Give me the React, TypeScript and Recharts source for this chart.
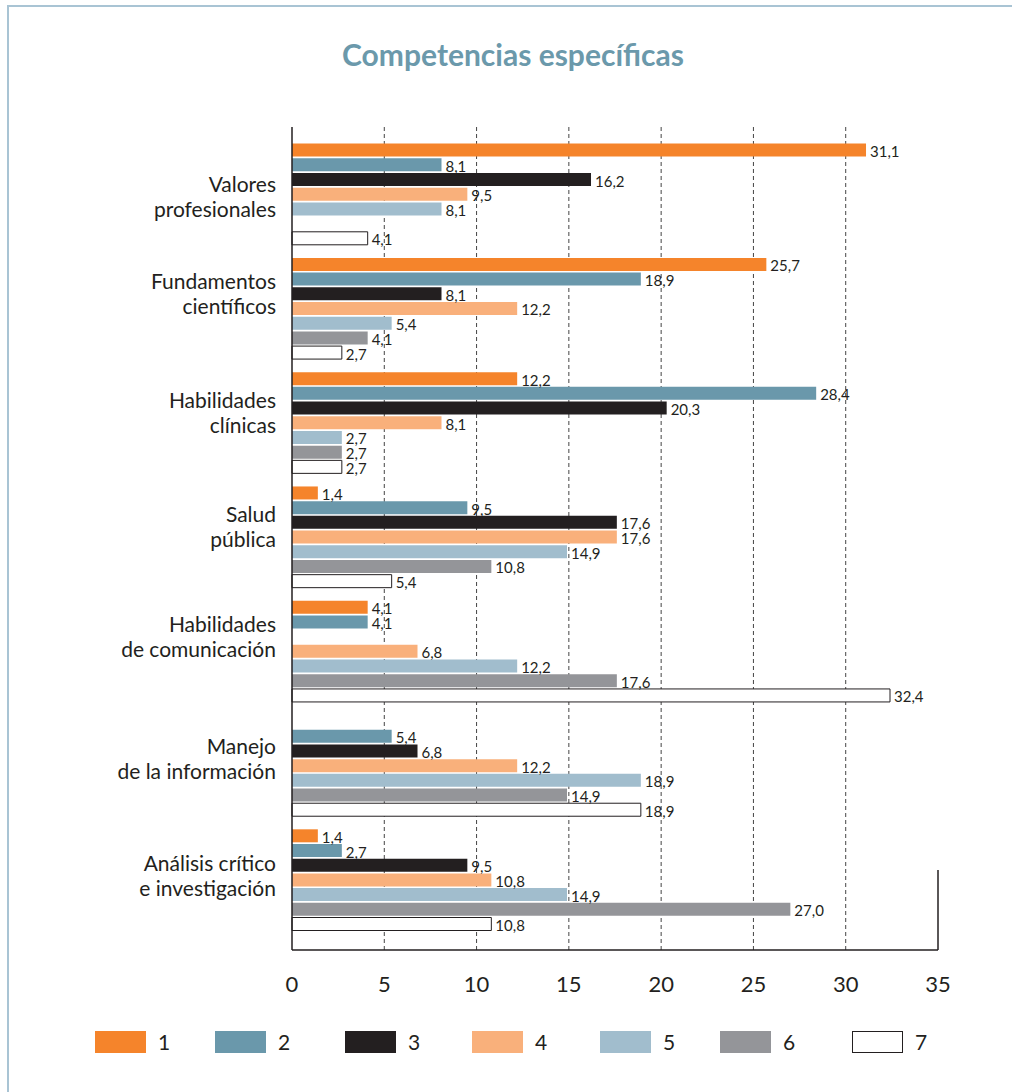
import React from "react";
import {
  BarChart,
  Bar,
  XAxis,
  YAxis,
  CartesianGrid,
  LabelList,
  ReferenceLine,
} from "recharts";

const FONT = "Lato, 'Open Sans', sans-serif";
const TEXT = "#231f20";

const categories = [
  "Valores\nprofesionales",
  "Fundamentos\ncientíficos",
  "Habilidades\nclínicas",
  "Salud\npública",
  "Habilidades\nde comunicación",
  "Manejo\nde la información",
  "Análisis crítico\ne investigación",
];
const serie1 = [31.1, 25.7, 12.2, 1.4, 4.1, null, 1.4];
const serie2 = [8.1, 18.9, 28.4, 9.5, 4.1, 5.4, 2.7];
const serie3 = [16.2, 8.1, 20.3, 17.6, null, 6.8, 9.5];
const serie4 = [9.5, 12.2, 8.1, 17.6, 6.8, 12.2, 10.8];
const serie5 = [8.1, 5.4, 2.7, 14.9, 12.2, 18.9, 14.9];
const serie6 = [null, 4.1, 2.7, 10.8, 17.6, 14.9, 27.0];
const serie7 = [4.1, 2.7, 2.7, 5.4, 32.4, 18.9, 10.8];
const seriesNames = ["1", "2", "3", "4", "5", "6", "7"];
const seriesColors = ["#f5842b", "#6a98ab", "#231f20", "#f9b07b", "#a1bdcd", "#949599", "#ffffff"];
const xTicks = [0, 5, 10, 15, 20, 25, 30, 35];
const gridValues = [5, 10, 15, 20, 25, 30];

const allSeries = [serie1, serie2, serie3, serie4, serie5, serie6, serie7];
const data = categories.map((name, i) => {
  const row: any = { name };
  allSeries.forEach((s, k) => {
    row[`s${k + 1}`] = s[i];
  });
  return row;
});

// layout tweaks: legend left edges (page px) and small vertical nudges of the category labels
const legendLeft = [95, 215, 345, 472, 600, 720, 852];
const labelNudge = [10, -7, -2, -3, -7, 1, 4];

const fmt = (v: number) => v.toFixed(1).replace(".", ",");

const renderLabel = (props: any) => {
  const { x, y, width, height, value } = props;
  if (value === null || value === undefined) return null;
  return (
    <text
      x={Number(x) + Number(width) + 4}
      y={Number(y) + Number(height) / 2 + 1}
      dominantBaseline="central"
      fontSize={15}
      fontFamily={FONT}
      fill={TEXT}
    >
      {fmt(Number(value))}
    </text>
  );
};

const CategoryTick = (props: any) => {
  const { x, y, payload, index } = props;
  const lines = String(payload.value).split("\n");
  const nudge = labelNudge[index] || 0;
  return (
    <g>
      {lines.map((line, i) => (
        <text
          key={i}
          x={x - 16 + 8}
          y={y - 21 + nudge + i * 25}
          textAnchor="end"
          dominantBaseline="central"
          fontSize={21}
          fontFamily={FONT}
          fill={TEXT}
        >
          {line}
        </text>
      ))}
    </g>
  );
};

const NumberTick = (props: any) => {
  const { x, y, payload } = props;
  return (
    <text
      x={x}
      y={y + 25}
      textAnchor="middle"
      dominantBaseline="central"
      fontSize={22}
      fontFamily={FONT}
      fill={TEXT}
    >
      {payload.value}
    </text>
  );
};

const RightStub = (props: any) => {
  const { x1, y1, y2 } = props;
  const bottom = Math.max(Number(y1), Number(y2));
  return <line x1={x1} x2={x1} y1={bottom - 80} y2={bottom} stroke={TEXT} strokeWidth={1.5} />;
};

const App = () => {
  return (
    <div style={{ position: "absolute", left: 0, top: 0, width: 1012, height: 1092, background: "#fff" }}>
      <div style={{ position: "absolute", left: 7, top: 5, width: 1005, height: 2, background: "#a9c4d4" }} />
      <div style={{ position: "absolute", left: 7, top: 5, width: 2, height: 1087, background: "#a9c4d4" }} />
      <div
        style={{
          position: "absolute",
          left: 0,
          top: 36,
          width: 1026,
          textAlign: "center",
          fontFamily: FONT,
          fontWeight: 700,
          fontSize: 30,
          color: "#6b99ab",
        }}
      >
        Competencias específicas
      </div>
      <div style={{ position: "absolute", left: 0, top: 0 }}>
        <BarChart
          width={1012}
          height={1000}
          data={data}
          layout="vertical"
          margin={{ top: 127, right: 74, bottom: 10, left: 0 }}
          barCategoryGap={6.6}
          barGap={1.7}
        >
          <CartesianGrid
            horizontal={false}
            verticalValues={gridValues}
            stroke="#444"
            strokeDasharray="4 3"
          />
          <XAxis
            type="number"
            domain={[0, 35]}
            ticks={xTicks}
            interval={0}
            tickLine={false}
            axisLine={{ stroke: TEXT, strokeWidth: 1.5 }}
            tick={<NumberTick />}
            height={40}
          />
          <YAxis
            type="category"
            dataKey="name"
            width={292}
            tickLine={false}
            axisLine={{ stroke: TEXT, strokeWidth: 1.5 }}
            tick={<CategoryTick />}
            padding={{ top: 10, bottom: 13 }}
            interval={0}
          />
          <ReferenceLine x={35} shape={<RightStub />} />
          {seriesNames.map((s, k) => (
            <Bar
              key={s}
              dataKey={`s${k + 1}`}
              name={s}
              fill={seriesColors[k]}
              stroke={k === 6 ? TEXT : "none"}
              strokeWidth={k === 6 ? 1 : 0}
              isAnimationActive={false}
            >
              <LabelList dataKey={`s${k + 1}`} content={renderLabel} />
            </Bar>
          ))}
        </BarChart>
      </div>
      {seriesNames.map((s, k) => (
        <div
          key={s}
          style={{
            position: "absolute",
            left: legendLeft[k],
            top: 1029,
            display: "flex",
            alignItems: "center",
            fontFamily: FONT,
            fontSize: 21,
            color: TEXT,
          }}
        >
          <div
            style={{
              width: k === 6 ? 49 : 51,
              height: k === 6 ? 20 : 22,
              background: seriesColors[k],
              border: k === 6 ? `1px solid ${TEXT}` : "none",
              marginRight: 12,
            }}
          />
          <span>{s}</span>
        </div>
      ))}
    </div>
  );
};

export default App;
